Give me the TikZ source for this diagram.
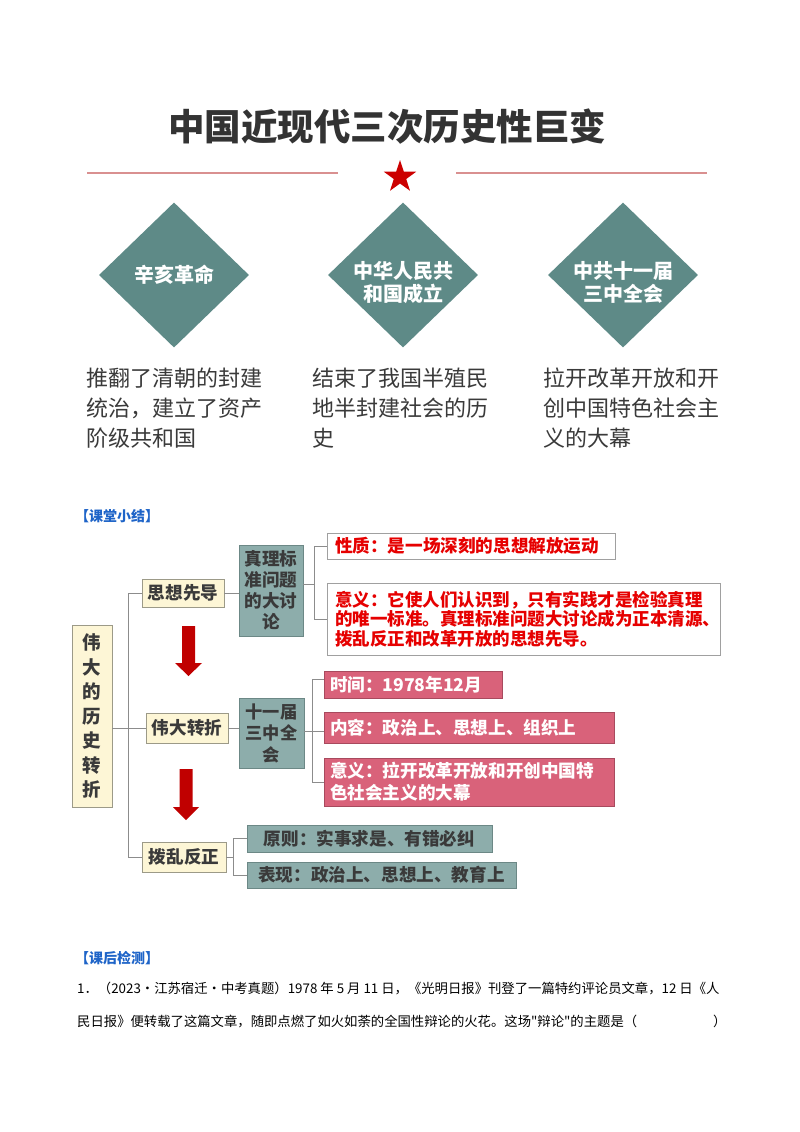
\documentclass[tikz,border=0pt]{standalone}
\usepackage{fontspec}
\newfontfamily\cjk{Noto Sans CJK SC}
\usetikzlibrary{shapes.geometric}
\definecolor{titlegray}{HTML}{333333}
\definecolor{linered}{HTML}{D99090}
\definecolor{starred}{HTML}{CC0000}
\definecolor{diafill}{HTML}{5E8A87}
\definecolor{desctext}{HTML}{3A3A3A}
\definecolor{hdrblue}{HTML}{1E64C8}
\definecolor{creamfill}{HTML}{FDF6D6}
\definecolor{creamborder}{HTML}{9C9A88}
\definecolor{tealfill}{HTML}{8DADAB}
\definecolor{tealborder}{HTML}{6C8886}
\definecolor{pinkfill}{HTML}{D9627A}
\definecolor{pinkborder}{HTML}{A84A5E}
\definecolor{redtext}{HTML}{E60000}
\definecolor{boxgray}{HTML}{A0A0A0}
\definecolor{conngray}{HTML}{8C8C8C}
\definecolor{arrowred}{HTML}{C00000}
\definecolor{darktext}{HTML}{3A3A3A}
\begin{document}
\begin{tikzpicture}[x=1pt,y=-1pt,
  conn/.style={draw=conngray, line width=0.9pt},
  mm/.style={font=\cjk\bfseries\fontsize{17.6}{21}\selectfont},
  cream/.style={mm, draw=creamborder, fill=creamfill, line width=0.8pt, inner sep=0pt, text=darktext, align=center},
  tealbox/.style={mm, draw=tealborder, fill=tealfill, line width=0.8pt, inner sep=0pt, text=darktext, align=center},
  pinkbox/.style={mm, draw=pinkborder, fill=pinkfill, line width=0.8pt, inner ysep=0pt, inner xsep=6pt, text=white, align=left},
  redbox/.style={mm, draw=boxgray, fill=white, line width=0.8pt, inner ysep=0pt, inner xsep=8pt, text=redtext, align=left},
  desc/.style={anchor=base west, font=\cjk\fontsize{22}{30}\selectfont, text=desctext, inner sep=0pt},
  dia/.style={diamond, fill=diafill, inner sep=0pt, minimum width=150pt, minimum height=145pt},
  diatext/.style={font=\cjk\bfseries\fontsize{20}{23}\selectfont, text=white, align=center, inner sep=0pt},
  hdr/.style={anchor=west, font=\cjk\bfseries\fontsize{14}{16}\selectfont, text=hdrblue, inner sep=0pt},
  qtext/.style={anchor=base west, font=\cjk\fontsize{13.35}{16}\selectfont, text=black, inner sep=0pt}
]
\fill[white] (0,0) rectangle (800,1132);
\useasboundingbox (0,0) rectangle (800,1132);

% ---------- top section ----------
\node[font=\cjk\bfseries\fontsize{36.5}{40}\selectfont, text=titlegray, inner sep=0pt] (title) at (387,127) {中国近现代三次历史性巨变};
\coordinate (l1a) at (87,173);
\coordinate (l1b) at (338,173);
\coordinate (l2a) at (456,173);
\coordinate (l2b) at (707,173);
\draw[linered, line width=1.1pt] (l1a) -- (l1b);
\draw[linered, line width=1.1pt] (l2a) -- (l2b);
\node[star, star points=5, star point ratio=2.6, fill=starred, minimum size=34pt, inner sep=0pt] (star) at (400,177) {};

\node[dia] (d1) at (174,275) {};
\node[dia] (d2) at (403,275) {};
\node[dia] (d3) at (623,275) {};
\node[diatext] (d1t) at (174,275) {辛亥革命};
\node[diatext] (d2t) at (403,283) {中华人民共\\和国成立};
\node[diatext] (d3t) at (623,282) {中共十一届\\三中全会};

\node[desc] (c1a) at (86,386.5) {推翻了清朝的封建};
\node[desc] (c1b) at (86,416.5) {统治，建立了资产};
\node[desc] (c1c) at (86,446.5) {阶级共和国};
\node[desc] (c2a) at (312,386.5) {结束了我国半殖民};
\node[desc] (c2b) at (312,416.5) {地半封建社会的历};
\node[desc] (c2c) at (312,446.5) {史};
\node[desc] (c3a) at (543,386.5) {拉开改革开放和开};
\node[desc] (c3b) at (543,416.5) {创中国特色社会主};
\node[desc] (c3c) at (543,446.5) {义的大幕};

% ---------- mind map ----------
\node[hdr] (h1) at (75,516) {【课堂小结】};

\node[cream, minimum width=40pt, minimum height=182pt, font=\cjk\bfseries\fontsize{18.5}{24.5}\selectfont] (main) at (92,716) {伟\\大\\的\\历\\史\\转\\折};
\node[cream, minimum width=82pt, minimum height=28pt] (sx) at (183,593) {思想先导};
\node[cream, minimum width=82pt, minimum height=30pt] (wd) at (187,728) {伟大转折};
\node[cream, minimum width=84pt, minimum height=30pt] (bl) at (184,857) {拨乱反正};

\node[tealbox, minimum width=64pt, minimum height=91pt] (zl) at (271,590.5) {真理标\\准问题\\的大讨\\论};
\node[tealbox, minimum width=65pt, minimum height=70pt, font=\cjk\bfseries\fontsize{17.2}{21.5}\selectfont] (sj) at (271.5,733) {十一届\\三中全\\会};

\node[redbox, minimum width=288pt, minimum height=26pt, text width=272pt] (xz) at (471,546) {性质：是一场深刻的思想解放运动};
\node[redbox, minimum width=393pt, minimum height=72pt, text width=377pt, font=\cjk\bfseries\fontsize{17.5}{19.6}\selectfont] (yy1) at (523.5,619) {意义：它使人们认识到，只有实践才是检验真理\\的唯一标准。真理标准问题大讨论成为正本清源、\\拨乱反正和改革开放的思想先导。};

\node[pinkbox, minimum width=178pt, minimum height=27pt, text width=166pt] (sjt) at (413,684.5) {时间：1978年12月};
\node[pinkbox, minimum width=290pt, minimum height=31pt, text width=278pt] (nr) at (469,727.5) {内容：政治上、思想上、组织上};
\node[pinkbox, minimum width=290pt, minimum height=48pt, text width=278pt, font=\cjk\bfseries\fontsize{17.6}{22}\selectfont] (yy2) at (469,782) {意义：拉开改革开放和开创中国特\\色社会主义的大幕};

\node[tealbox, minimum width=245pt, minimum height=27pt] (yz) at (369.5,838.5) {原则：实事求是、有错必纠};
\node[tealbox, minimum width=269pt, minimum height=26pt] (bx) at (381.5,875) {表现：政治上、思想上、教育上};

% connectors
\coordinate (sp) at (128,0);
\draw[conn] (sx.west) -- (sx.west -| sp) -- (bl.west -| sp) -- (bl.west);
\draw[conn] (main.east |- wd.west) -- (wd.west);
\draw[conn] (sx.east) -- (sx.east -| zl.west);
\draw[conn] (wd.east) -- (wd.east -| sj.west);

\coordinate (b1) at (314,584);
\draw[conn] (zl.east |- b1) -- (b1);
\draw[conn] (xz.west) -- (xz.west -| b1) -- (yy1.west -| b1) -- (yy1.west);

\coordinate (b2) at (312,731);
\coordinate (b2t) at (312,679);
\draw[conn] (sj.east |- b2) -- (nr.west |- b2);
\draw[conn] (sjt.west |- b2t) -- (b2t) -- (yy2.west -| b2) -- (yy2.west);

\coordinate (b3) at (233,857);
\draw[conn] (bl.east) -- (b3);
\draw[conn] (yz.west) -- (yz.west -| b3) -- (bx.west -| b3) -- (bx.west);

% red block arrows
\fill[arrowred] (182,626) -- (195,626) -- (195,663) -- (202,663) -- (188.5,676) -- (175,663) -- (182,663) -- cycle;
\fill[arrowred] (179.5,769) -- (192.5,769) -- (192.5,807) -- (199,807) -- (186,820) -- (173,807) -- (179.5,807) -- cycle;

% ---------- bottom ----------
\node[hdr] (h2) at (75,958) {【课后检测】};
\node[qtext] (q1) at (77,993) {1．（2023·江苏宿迁·中考真题）1978 年 5 月 11 日，《光明日报》刊登了一篇特约评论员文章，12 日《人};
\node[qtext] (q2) at (77,1026) {民日报》便转载了这篇文章，随即点燃了如火如荼的全国性辩论的火花。这场"辩论"的主题是（\hspace*{76pt}）};
\end{tikzpicture}
\end{document}
